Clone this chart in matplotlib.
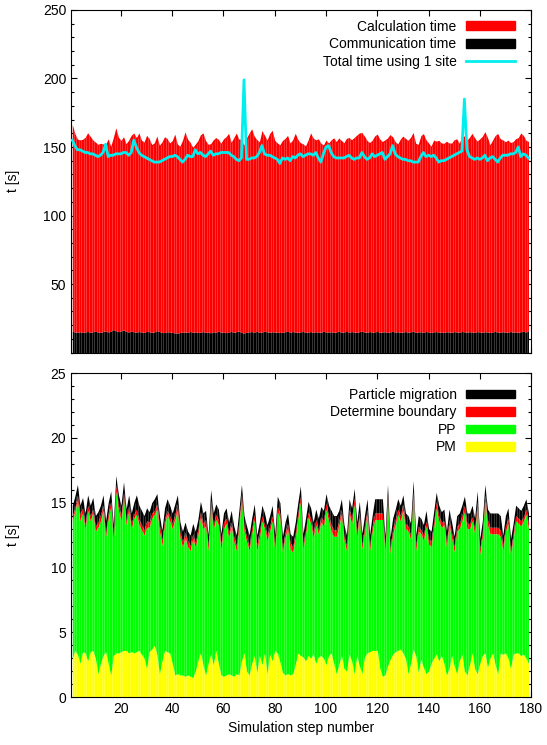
import numpy as np
import matplotlib
matplotlib.use("Agg")
from matplotlib import pyplot as plt
from matplotlib.patches import Patch
from matplotlib.lines import Line2D
from matplotlib.ticker import MultipleLocator

plt.rcParams['font.family'] = ['Liberation Sans', 'DejaVu Sans']
plt.rcParams['font.size'] = 10

# --- top panel: calculation / communication per step (s) ---
calc_time = [
    151, 145, 141, 140, 141, 142, 145, 143, 140, 138,
    137, 138, 137, 136, 141, 135, 140, 148, 142, 139,
    141, 137, 140, 143, 145, 142, 145, 140, 139, 143,
    141, 137, 138, 142, 136, 139, 143, 141, 138, 140,
    145, 138, 136, 140, 146, 141, 138, 135, 137, 140,
    144, 145, 140, 137, 138, 140, 142, 140, 138, 141,
    143, 145, 138, 142, 145, 140, 141, 137, 142, 145,
    148, 143, 140, 139, 147, 143, 140, 145, 147, 140,
    138, 137, 140, 141, 143, 138, 140, 145, 141, 138,
    137, 136, 140, 145, 142, 140, 141, 138, 136, 140,
    138, 140, 142, 139, 141, 140, 138, 141, 142, 140,
    142, 144, 145, 145, 143, 140, 138, 140, 143, 144,
    141, 139, 140, 142, 144, 142, 139, 137, 141, 143,
    141, 140, 142, 145, 138, 137, 143, 145, 140, 138,
    136, 140, 139, 140, 138, 138, 139, 138, 138, 140,
    141, 138, 142, 143, 140, 142, 145, 142, 139, 141,
    143, 146, 142, 137, 140, 143, 145, 141, 140, 139,
    140, 138, 139, 141, 142, 145, 143, 140, 138]

comm_time = [
    15.5, 15.0, 14.8, 15.2, 14.6, 15.0, 15.4, 14.8, 15.2, 15.6,
    15.0, 14.7, 15.3, 15.8, 15.0, 15.5, 16.8, 16.0, 15.2, 15.8,
    16.5, 15.4, 15.0, 15.6, 15.2, 14.9, 15.3, 15.0, 14.6, 15.5,
    15.2, 14.8, 15.0, 16.0, 15.3, 14.7, 14.5, 15.2, 15.0, 14.6,
    14.4, 14.2, 14.6, 14.9, 15.0, 14.7, 15.4, 14.8, 15.1, 14.6,
    14.9, 15.3, 14.7, 15.0, 14.4, 15.2, 14.9, 15.6, 14.8, 15.0,
    14.5, 15.0, 15.4, 14.8, 15.2, 15.8, 14.6, 14.3, 14.8, 15.1,
    15.3, 14.9, 15.5, 14.7, 15.0, 15.6, 15.1, 14.8, 15.2, 14.9,
    15.0, 14.6, 14.8, 15.2, 15.5, 14.9, 15.3, 15.0, 14.7, 15.1,
    15.4, 14.8, 15.0, 15.3, 14.6, 15.2, 15.0, 14.8, 15.5, 15.1,
    14.9, 15.2, 14.7, 15.0, 15.6, 14.8, 15.1, 15.4, 14.9, 15.3,
    15.0, 14.7, 15.2, 15.6, 15.0, 14.8, 15.3, 14.9, 15.1, 15.4,
    14.8, 15.0, 15.2, 14.6, 15.1, 15.5, 14.9, 15.2, 14.8, 15.0,
    15.3, 14.9, 15.1, 15.6, 14.7, 15.0, 15.2, 14.8, 15.4, 15.0,
    14.6, 15.1, 15.3, 14.9, 15.0, 14.7, 15.2, 15.0, 14.8, 15.3,
    15.0, 14.8, 15.4, 15.1, 14.9, 15.2, 15.0, 14.7, 15.3, 15.0,
    14.8, 15.2, 15.0, 14.6, 15.1, 15.4, 14.9, 15.0, 15.2, 14.8,
    15.0, 15.3, 14.9, 15.1, 14.8, 15.2, 15.5, 15.0, 16.0]

one_site_time = [
    155, 151, 148, 148, 147, 146, 146, 145, 145, 144,
    143, 144, 146, 152, 143, 144, 144, 145, 145, 145,
    146, 146, 144, 146, 155, 150, 146, 144, 143, 142,
    141, 140, 139, 139, 139, 140, 141, 142, 143, 143,
    144, 143, 141, 139, 141, 144, 143, 143, 148, 145,
    146, 144, 143, 145, 147, 144, 145, 145, 146, 146,
    146, 146, 144, 143, 141, 140, 142, 199, 141, 141,
    142, 142, 143, 146, 151, 145, 144, 144, 143, 142,
    141, 138, 142, 141, 142, 140, 143, 142, 144, 145,
    143, 144, 145, 145, 144, 146, 142, 139, 145, 150,
    151, 146, 143, 142, 142, 142, 142, 143, 144, 142,
    141, 142, 142, 146, 143, 141, 142, 145, 143, 144,
    145, 146, 141, 143, 145, 151, 145, 143, 142, 141,
    141, 140, 140, 139, 139, 139, 143, 146, 143, 144,
    143, 144, 142, 139, 140, 140, 141, 142, 143, 144,
    145, 146, 147, 185, 148, 143, 142, 141, 142, 141,
    142, 144, 140, 142, 143, 141, 139, 142, 144, 144,
    144, 145, 145, 146, 150, 143, 145, 144, 142]

# --- bottom panel: breakdown of the calculation time (s) ---
pm_time = [
    3.0, 3.6, 3.3, 2.6, 3.5, 3.4, 2.8, 3.5, 3.6, 3.0,
    1.8, 2.6, 3.2, 3.5, 2.6, 1.7, 3.2, 3.4, 3.4, 3.5,
    3.6, 3.6, 3.4, 3.5, 3.4, 3.5, 3.6, 3.3, 3.0, 2.2,
    3.5, 3.7, 4.0, 3.3, 1.8, 2.8, 3.6, 3.5, 3.4, 2.6,
    1.7, 1.8, 1.7, 1.7, 1.6, 1.7, 1.6, 1.5, 2.0, 2.8,
    3.4, 2.5, 1.7, 2.6, 3.3, 2.5, 3.6, 2.6, 1.7, 1.6,
    1.7, 1.8, 1.7, 1.6, 1.8, 1.7, 2.8, 3.4, 2.0, 1.7,
    2.6, 3.2, 1.9, 3.2, 2.5, 3.4, 1.8, 3.3, 2.8, 3.6,
    3.4, 2.7, 1.9, 1.7, 1.8, 1.7, 1.8, 2.5, 3.4, 3.2,
    3.1, 2.8, 3.2, 3.0, 3.3, 2.6, 3.1, 3.2, 3.0, 2.5,
    3.2, 3.4, 2.6, 1.8, 2.5, 3.2, 2.2, 2.0, 3.3, 2.8,
    1.8, 3.2, 2.4, 1.8, 3.1, 3.4, 3.5, 3.6, 3.6, 3.6,
    2.2, 1.6, 1.7, 2.4, 2.9, 3.3, 3.5, 3.6, 3.7, 3.4,
    3.0, 1.8, 2.6, 3.7, 3.2, 1.9, 2.9, 2.3, 1.8, 2.0,
    2.6, 3.0, 3.3, 2.8, 3.2, 2.6, 1.7, 2.2, 3.2, 2.4,
    1.8, 2.8, 3.3, 2.0, 1.7, 2.5, 3.4, 2.2, 1.8, 2.6,
    3.2, 3.4, 2.3, 3.0, 3.4, 2.5, 1.8, 3.4, 3.3, 3.4,
    3.0, 2.2, 3.3, 3.4, 3.4, 3.2, 3.3, 3.0, 2.6]

pp_time = [
    10.6, 10.7, 11.9, 11.0, 10.7, 9.6, 11.6, 10.1, 10.6, 9.8,
    11.3, 11.0, 11.2, 8.9, 11.2, 13.0, 8.9, 12.5, 11.0, 10.1,
    11.8, 9.7, 11.0, 9.5, 10.4, 10.6, 9.7, 9.6, 9.5, 10.9,
    9.6, 10.1, 10.1, 11.2, 11.0, 8.9, 9.8, 10.6, 10.2, 10.4,
    12.0, 12.6, 10.6, 9.9, 10.7, 9.9, 9.7, 10.7, 9.6, 9.7,
    10.5, 10.5, 11.5, 8.7, 11.5, 10.5, 10.1, 10.7, 9.7, 11.4,
    11.7, 10.5, 11.5, 10.4, 9.5, 11.5, 12.4, 9.4, 10.0, 9.6,
    10.0, 10.5, 9.4, 9.1, 11.1, 9.6, 10.3, 9.5, 10.8, 7.7,
    10.9, 11.1, 9.3, 10.6, 11.2, 9.7, 9.4, 9.8, 10.4, 11.9,
    8.3, 9.8, 10.7, 10.4, 9.0, 10.7, 9.5, 10.3, 10.2, 12.0,
    10.4, 9.4, 9.8, 10.6, 10.7, 10.9, 9.9, 9.3, 10.8, 10.6,
    13.1, 9.1, 11.5, 9.6, 9.7, 10.7, 7.8, 9.2, 10.1, 10.1,
    11.5, 12.1, 9.5, 12.8, 8.2, 9.3, 9.8, 10.5, 9.9, 11.0,
    10.0, 11.0, 9.6, 11.8, 8.1, 10.9, 9.7, 9.8, 11.4, 9.8,
    9.0, 10.1, 11.3, 10.8, 9.9, 10.7, 9.9, 11.1, 9.1, 8.8,
    11.0, 10.2, 10.3, 12.3, 11.3, 10.5, 10.2, 10.4, 12.9, 8.4,
    9.2, 11.8, 11.0, 9.6, 9.2, 10.1, 10.8, 9.0, 8.0, 9.4,
    10.4, 8.8, 8.9, 10.2, 10.0, 10.0, 10.3, 11.1, 10.4]

boundary_time = [
    0.4, 0.3, 0.4, 0.5, 0.4, 0.3, 0.4, 0.4, 0.3, 0.4,
    0.4, 0.5, 0.4, 0.3, 0.4, 0.4, 0.3, 0.5, 0.4, 0.4,
    0.4, 0.3, 0.4, 0.4, 0.3, 0.4, 0.4, 0.4, 0.4, 0.5,
    0.4, 0.4, 0.3, 0.4, 0.5, 0.4, 0.4, 0.3, 0.4, 0.4,
    0.4, 0.5, 0.4, 0.4, 0.4, 0.5, 0.4, 0.4, 0.3, 0.4,
    0.4, 0.4, 0.5, 0.4, 0.4, 0.3, 0.4, 0.4, 0.4, 0.5,
    0.4, 0.4, 0.3, 0.4, 0.4, 0.4, 0.5, 0.4, 0.4, 0.3,
    0.4, 0.4, 0.4, 0.5, 0.4, 0.3, 0.4, 0.4, 0.4, 0.4,
    0.4, 0.4, 0.3, 0.4, 0.4, 0.5, 0.4, 0.4, 0.4, 0.4,
    0.4, 0.3, 0.4, 0.4, 0.4, 0.4, 0.3, 0.4, 0.4, 0.5,
    0.4, 0.5, 0.5, 0.5, 0.4, 0.4, 0.3, 0.4, 0.4, 0.4,
    0.5, 0.4, 0.4, 0.3, 0.4, 0.4, 0.4, 0.4, 0.5, 0.5,
    0.5, 0.5, 0.4, 0.4, 0.3, 0.4, 0.4, 0.4, 0.4, 0.5,
    0.4, 0.4, 0.3, 0.4, 0.4, 0.4, 0.3, 0.4, 0.4, 0.4,
    0.4, 0.4, 0.5, 0.4, 0.4, 0.3, 0.4, 0.4, 0.4, 0.4,
    0.4, 0.4, 0.4, 0.5, 0.4, 0.4, 0.3, 0.4, 0.4, 0.4,
    0.4, 0.4, 0.4, 0.5, 0.5, 0.5, 0.5, 0.5, 0.4, 0.4,
    0.4, 0.3, 0.4, 0.4, 0.4, 0.4, 0.3, 0.4, 0.4]

migration_time = [
    0.8, 0.9, 0.8, 0.7, 0.8, 0.9, 0.8, 0.8, 0.9, 0.8,
    0.8, 0.7, 0.8, 0.9, 0.8, 0.8, 0.9, 0.7, 0.8, 0.8,
    0.8, 0.9, 0.8, 0.8, 0.9, 1.1, 1.1, 1.1, 1.1, 1.0,
    0.8, 0.8, 0.9, 0.8, 0.7, 0.8, 0.8, 0.9, 0.8, 0.8,
    0.8, 0.7, 0.8, 0.8, 0.8, 0.7, 0.8, 0.8, 0.9, 0.8,
    0.8, 0.8, 0.7, 0.8, 0.8, 0.9, 0.8, 0.8, 0.8, 0.7,
    0.8, 0.8, 0.9, 0.8, 0.8, 0.8, 0.7, 0.8, 0.8, 0.9,
    0.8, 0.8, 0.8, 0.7, 0.8, 0.9, 0.8, 0.8, 0.8, 0.8,
    0.8, 0.8, 0.9, 0.8, 0.8, 0.7, 0.8, 0.8, 0.8, 0.8,
    0.8, 0.9, 0.8, 0.8, 0.8, 0.8, 0.9, 0.8, 0.8, 0.7,
    0.8, 1.1, 1.1, 1.1, 0.8, 0.8, 0.9, 0.8, 0.8, 0.8,
    0.7, 0.8, 0.8, 0.9, 0.8, 0.8, 0.8, 0.8, 1.1, 1.1,
    1.1, 1.1, 0.8, 0.8, 0.9, 0.8, 0.8, 0.8, 0.8, 0.7,
    0.8, 0.8, 0.9, 0.8, 0.8, 0.8, 0.9, 0.8, 0.8, 0.8,
    0.8, 0.8, 0.7, 0.8, 0.8, 0.9, 0.8, 0.8, 0.8, 0.8,
    0.8, 0.8, 0.8, 0.7, 0.8, 0.8, 0.9, 0.8, 0.8, 0.8,
    0.8, 0.8, 0.8, 1.1, 1.1, 1.1, 1.1, 1.1, 0.8, 0.8,
    0.8, 0.9, 0.8, 0.8, 0.8, 0.8, 0.9, 0.8, 0.8]

steps = np.arange(1, len(calc_time) + 1)

RED = '#ff0000'
BLACK = '#000000'
GREEN = '#00ff00'
YELLOW = '#ffff00'
CYAN = '#00eeee'

fig = plt.figure(figsize=(5.47, 7.45), dpi=100)
ax1 = fig.add_axes([0.1298, 0.5268, 0.841, 0.4598])
ax2 = fig.add_axes([0.1298, 0.0644, 0.841, 0.4349])


def stacked(ax, layers, colors):
    base = np.zeros(len(steps))
    for vals, col in zip(layers, colors):
        top = base + np.asarray(vals, dtype=float)
        ax.fill_between(steps, base, top, color=col, lw=0, zorder=2)
        base = top
    # thin light seams between the histogram boxes
    ax.vlines(steps[:-1] + 0.5, 0, base[:-1], colors='white', alpha=0.3,
              lw=0.5, zorder=3)


stacked(ax1, [comm_time, calc_time], [BLACK, RED])
ax1.plot(steps, one_site_time, color=CYAN, lw=2.0, zorder=4)

stacked(ax2, [pm_time, pp_time, boundary_time, migration_time],
        [YELLOW, GREEN, RED, BLACK])

for ax in (ax1, ax2):
    ax.set_xlim(0.5, 180)
    ax.xaxis.set_major_locator(MultipleLocator(20))
    ax.tick_params(which='both', direction='in', top=True, right=True,
                   labelsize=10, width=0.8)
    ax.tick_params(which='major', length=4.5)
    ax.tick_params(which='minor', length=2.5)
    ax.set_ylabel('t [s]', fontsize=10)
    for sp in ax.spines.values():
        sp.set_linewidth(0.8)

ax1.set_ylim(0, 250)
ax1.set_yticks([50, 100, 150, 200, 250])
ax1.yaxis.set_minor_locator(MultipleLocator(10))
ax1.set_xticks(np.arange(20, 181, 20))
ax1.set_xticklabels([])
ax1.yaxis.set_label_coords(-0.11, 0.5)

ax2.set_ylim(0, 25)
ax2.set_yticks([0, 5, 10, 15, 20, 25])
ax2.yaxis.set_minor_locator(MultipleLocator(1))
ax2.set_xticks(np.arange(20, 181, 20))
ax2.set_xlabel('Simulation step number', fontsize=10)
ax2.yaxis.set_label_coords(-0.11, 0.5)

leg_kw = dict(frameon=False, markerfirst=False, loc='upper right',
              handlelength=3.5, handleheight=0.6, handletextpad=0.7,
              labelspacing=0.25, borderpad=0, borderaxespad=0, fontsize=10)

h1 = [Patch(color=RED), Patch(color=BLACK), Line2D([], [], color=CYAN, lw=2.0)]
ax1.legend(h1, ['Calculation time', 'Communication time',
                'Total time using 1 site'],
           bbox_to_anchor=(0.965, 0.972), **leg_kw)

h2 = [Patch(color=BLACK), Patch(color=RED), Patch(color=GREEN),
      Patch(color=YELLOW)]
ax2.legend(h2, ['Particle migration', 'Determine boundary', 'PP', 'PM'],
           bbox_to_anchor=(0.965, 0.954), **leg_kw)

fig.savefig('out.png', dpi=100)
